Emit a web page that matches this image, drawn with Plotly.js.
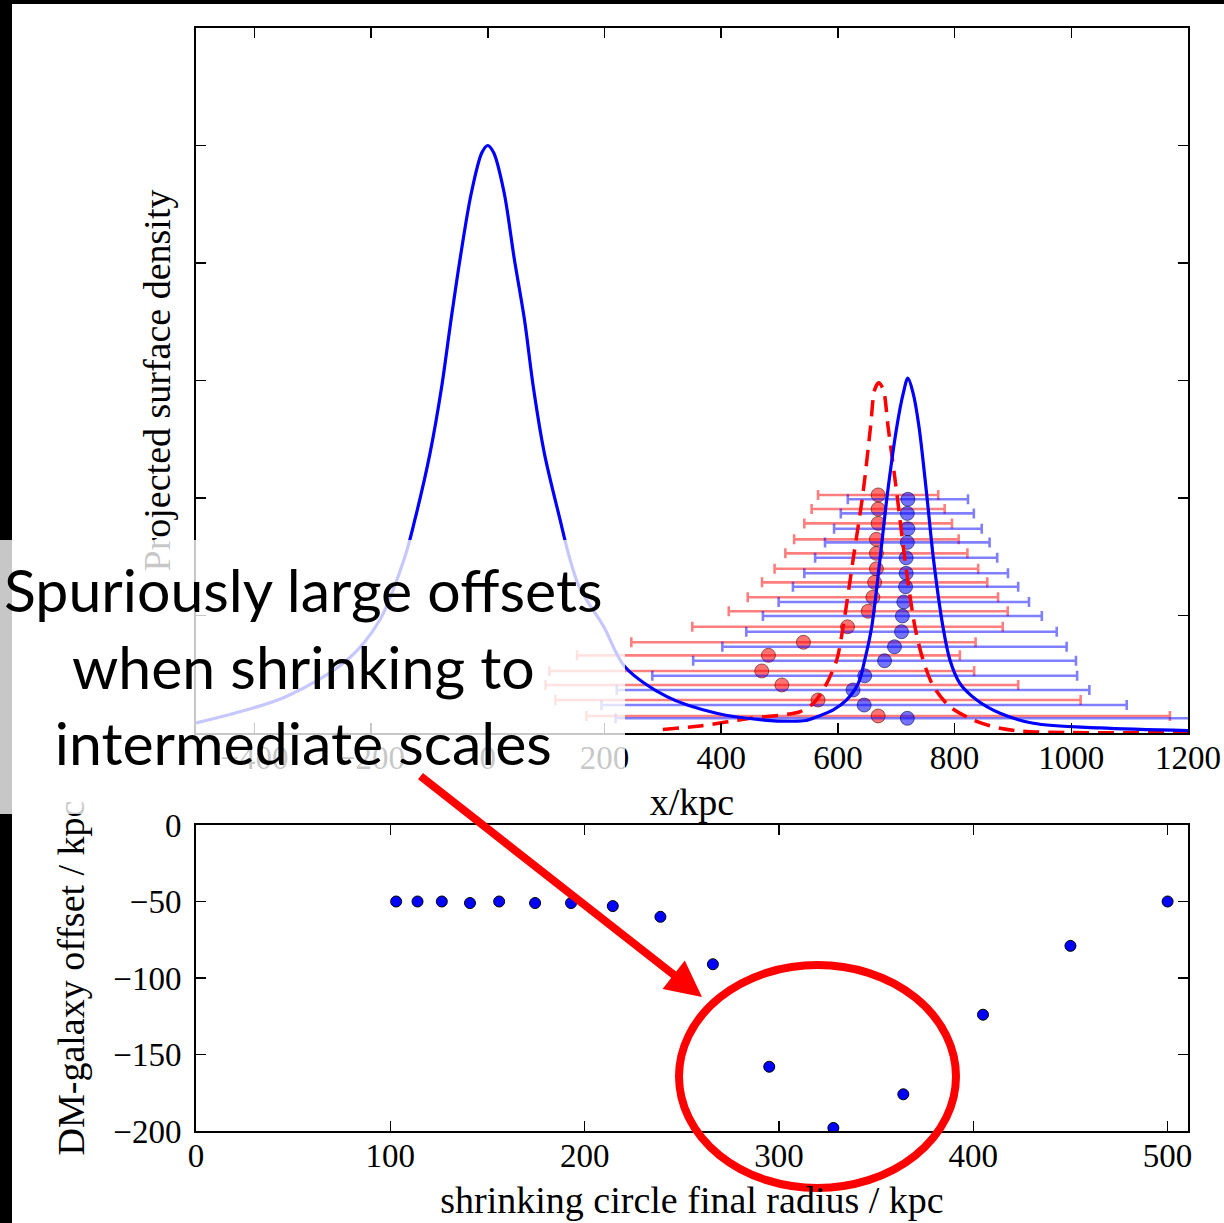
<!DOCTYPE html>
<html>
<head>
<meta charset="utf-8">
<script src="https://cdn.plot.ly/plotly-3.0.1.min.js"></script>
<style>html,body{margin:0;padding:0;background:#fff;}#chart{width:1224px;height:1223px;}</style>
</head>
<body>
<div id="chart"></div>
<script>
// ---- data ----
// bottom panel: shrinking circle final radius (kpc) and DM-galaxy offset (kpc)
const radius = [103, 114, 126.5, 141, 156, 174.5, 193, 214.5, 239, 266, 295, 328, 364, 405, 450, 500];
const offset = [-50, -50, -50, -51, -50, -51, -51, -53, -60, -91, -158, -198, -176, -124, -79, -50];

// top panel: centroid estimates (kpc) with error bars = circle radius
const galCentre = [669, 669, 669, 666, 666, 666, 663, 660, 652, 616.5, 541, 481, 469.5, 504, 566, 669];
const galRowY   = [2.026, 1.906, 1.784, 1.648, 1.529, 1.398, 1.282, 1.155, 1.036, 0.904, 0.772, 0.661, 0.528, 0.409, 0.281, 0.145];
const dmCentre  = [720, 719, 720, 719, 717, 717, 716, 713, 710.5, 709, 697, 680, 646, 626, 645, 719];
const dmRowY    = [1.989, 1.869, 1.738, 1.622, 1.491, 1.359, 1.245, 1.115, 0.996, 0.862, 0.734, 0.615, 0.487, 0.366, 0.238, 0.125];

// projected surface density curves
const dmCurveX = [-500, -346, -241, -185, -142, -125, -99, -79, -63, -47, -28, -10, 0, 10, 28, 45, 63, 78, 97, 124, 138, 157, 199, 235, 307, 392, 478, 520, 545, 565, 592, 615, 635, 646, 658, 672, 685, 701, 712, 720, 729, 739, 752, 764, 780, 792, 809, 838, 878, 935, 1049, 1200];
const dmCurveY = [0.085, 0.309, 0.621, 0.962, 1.50, 1.813, 2.38, 2.947, 3.515, 4.05, 4.60, 4.94, 5.0, 4.94, 4.60, 4.05, 3.515, 2.947, 2.38, 1.813, 1.53, 1.24, 0.902, 0.564, 0.309, 0.168, 0.108, 0.100, 0.106, 0.14, 0.196, 0.281, 0.423, 0.621, 0.905, 1.472, 2.04, 2.607, 2.89, 3.02, 2.89, 2.607, 2.04, 1.472, 0.905, 0.621, 0.423, 0.281, 0.168, 0.083, 0.043, 0.02];
const galCurveX = [300, 364, 450, 535, 558, 578, 598, 609, 626, 643, 656, 663, 670, 678, 686, 701, 715, 732, 746, 764, 792, 832, 878, 929, 1200];
const galCurveY = [0.03, 0.06, 0.125, 0.181, 0.253, 0.394, 0.621, 0.905, 1.472, 2.04, 2.607, 2.92, 2.98, 2.92, 2.607, 2.04, 1.472, 0.905, 0.621, 0.394, 0.224, 0.111, 0.04, 0.011, 0.005];

const topXTicks = [-400, -200, 0, 200, 400, 600, 800, 1000, 1200];
const topYTicks = [0, 1, 2, 3, 4, 5, 6];
const botXTicks = [0, 100, 200, 300, 400, 500];
const botYTicks = [-200, -150, -100, -50, 0];

const annotationText = ['Spuriously large offsets', 'when shrinking to', 'intermediate scales'];

// ---- figure ----
const W = 1224, H = 1223;
const px = v => v / W;            // pixel x -> paper
const py = v => (H - v) / H;      // pixel y -> paper
const serif = "'Liberation Serif', 'Times New Roman', serif";

const traces = [
  {x: galCentre, y: galRowY, xaxis: 'x', yaxis: 'y', type: 'scatter', mode: 'markers',
   marker: {color: 'rgba(255,0,0,0.55)', size: 14, line: {color: 'rgba(60,0,0,0.55)', width: 1}},
   error_x: {type: 'data', array: radius, color: 'rgba(255,0,0,0.5)', thickness: 2.6, width: 5}},
  {x: dmCentre, y: dmRowY, xaxis: 'x', yaxis: 'y', type: 'scatter', mode: 'markers',
   marker: {color: 'rgba(0,0,255,0.55)', size: 14, line: {color: 'rgba(0,0,60,0.55)', width: 1}},
   error_x: {type: 'data', array: radius, color: 'rgba(0,0,255,0.5)', thickness: 2.6, width: 5}},
  {x: galCurveX, y: galCurveY, xaxis: 'x', yaxis: 'y', type: 'scatter', mode: 'lines',
   line: {color: '#ff0000', width: 3.5, dash: '16px,9px', shape: 'spline', smoothing: 0.8}},
  {x: dmCurveX, y: dmCurveY, xaxis: 'x', yaxis: 'y', type: 'scatter', mode: 'lines',
   line: {color: '#0000ff', width: 3.2, shape: 'spline', smoothing: 0.9}},
  {x: radius, y: offset, xaxis: 'x2', yaxis: 'y2', type: 'scatter', mode: 'markers',
   marker: {color: '#0000ff', size: 11, line: {color: '#000', width: 1}}}
];

const axCommon = {
  showgrid: false, zeroline: false, showline: true, linecolor: '#000', linewidth: 2,
  mirror: 'ticks', ticks: 'inside', ticklen: 10, tickwidth: 1.5, tickcolor: '#000',
  tickfont: {family: serif, size: 33, color: '#000'}
};
const titleFont = {family: serif, size: 38, color: '#000'};

const layout = {
  width: W, height: H,
  margin: {l: 0, r: 0, t: 0, b: 0},
  paper_bgcolor: '#fff', plot_bgcolor: '#fff',
  showlegend: false,
  xaxis: Object.assign({}, axCommon, {domain: [px(196), px(1188)], range: [-500, 1200], anchor: 'y',
    tickmode: 'array', tickvals: topXTicks, ticklabelstandoff: -6,
    title: {text: 'x/kpc', font: titleFont, standoff: 14}}),
  yaxis: Object.assign({}, axCommon, {domain: [py(733), py(28)], range: [0, 6], anchor: 'x',
    tickmode: 'array', tickvals: topYTicks, showticklabels: false,
    title: {text: 'Projected surface density', font: titleFont, standoff: 12}}),
  xaxis2: Object.assign({}, axCommon, {domain: [px(196), px(1188)], range: [0, 510.5], anchor: 'y2',
    tickmode: 'array', tickvals: botXTicks, ticklabelstandoff: -6,
    title: {text: 'shrinking circle final radius / kpc', font: titleFont, standoff: 14}}),
  yaxis2: Object.assign({}, axCommon, {domain: [py(1131), py(825)], range: [-200, 0], anchor: 'x2',
    tickmode: 'array', tickvals: botYTicks, ticklabelstandoff: 6,
    title: {text: 'DM-galaxy offset / kpc', font: titleFont, standoff: 17}}),
  shapes: [
    {type: 'rect', xref: 'paper', yref: 'paper', x0: 0, x1: px(12), y0: 0, y1: 1, fillcolor: '#000', line: {width: 0}, layer: 'above'},
    {type: 'rect', xref: 'paper', yref: 'paper', x0: 0, x1: 1, y0: py(4), y1: 1, fillcolor: '#000', line: {width: 0}, layer: 'above'},
    {type: 'circle', xref: 'paper', yref: 'paper', x0: px(679), x1: px(956), y0: py(1188), y1: py(965),
     line: {color: '#ff0000', width: 8}, layer: 'above'}
  ],
  annotations: [
    {xref: 'paper', yref: 'paper', x: 0, y: py(540), xanchor: 'left', yanchor: 'top',
     text: ' ', showarrow: false, width: 625, height: 274, borderpad: 0, borderwidth: 0,
     bgcolor: 'rgba(255,255,255,0.78)'},
    {xref: 'paper', yref: 'paper', x: px(303), y: py(666), xanchor: 'center', yanchor: 'middle',
     text: annotationText.join('<br>'), showarrow: false, align: 'center',
     font: {family: 'Lato, Carlito, Calibri, sans-serif', size: 59, color: '#000'}},
    {xref: 'paper', yref: 'paper', x: px(702), y: py(997), text: '', showarrow: true,
     ax: 419 - 702, ay: 775 - 997, axref: 'pixel', ayref: 'pixel',
     arrowhead: 2, arrowsize: 0.9, arrowwidth: 8, arrowcolor: '#ff0000', standoff: 0}
  ]
};

Plotly.newPlot('chart', traces, layout, {staticPlot: true, displayModeBar: false});
</script>
</body>
</html>
